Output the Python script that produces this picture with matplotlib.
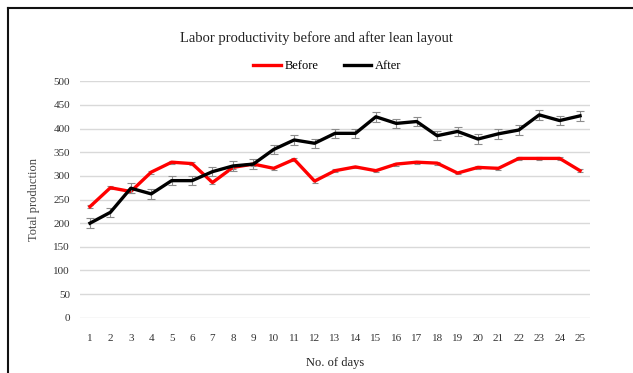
import matplotlib
matplotlib.use("Agg")
import matplotlib.pyplot as plt
from matplotlib.lines import Line2D

days = list(range(1, 26))
before = [235, 275, 267, 308, 329, 326, 286, 318, 325, 316, 335, 289, 311, 319, 311,
          325, 329, 327, 306, 318, 316, 337, 337, 337, 311]
after = [200, 223, 274, 262, 290, 290, 309, 321, 325, 356, 376, 369, 390, 390, 425,
         411, 415, 385, 394, 378, 389, 397, 429, 417, 427]
before_err = [3] * 25
after_err = [10] * 25
yticks = list(range(0, 501, 50))

plt.rcParams['font.family'] = ['Liberation Serif', 'DejaVu Serif']

fig = plt.figure(figsize=(6.33, 3.73), dpi=100)
ax = fig.add_axes([0.126, 0.148, 0.8065, 0.634])

for yv in yticks:
    ax.axhline(yv, color='#d9d9d9', lw=1.0, zorder=0)

ax.errorbar(days, before, yerr=before_err, color='#ff0000', lw=2.4,
            ecolor='#8c8c8c', elinewidth=0.8, capsize=2.5, capthick=0.8, zorder=3)
ax.errorbar(days, after, yerr=after_err, color='#000000', lw=2.4,
            ecolor='#8c8c8c', elinewidth=0.8, capsize=3, capthick=0.8, zorder=4)

ax.set_xlim(0.5, 25.5)
ax.set_ylim(0, 500)
ax.set_xticks(days)
ax.set_xticklabels([str(d) for d in days])
ax.set_yticks(yticks)
ax.tick_params(axis='both', length=0, labelsize=8, colors='#333333')
ax.tick_params(axis='x', pad=12)
ax.tick_params(axis='y', pad=7)
for s in ax.spines.values():
    s.set_visible(False)

ax.set_xlabel('No. of days', fontsize=9, color='#222222', labelpad=10)
ax.set_ylabel('Total production', fontsize=9, color='#444444', labelpad=10)

fig.text(0.5, 0.898, 'Labor productivity before and after lean layout',
         ha='center', va='center', fontsize=10.5, color='#222222')

handles = [Line2D([], [], color='#ff0000', lw=2.4),
           Line2D([], [], color='#000000', lw=2.4)]
fig.legend(handles, ['Before', 'After'], loc='center', bbox_to_anchor=(0.517, 0.823),
           ncol=2, frameon=False, fontsize=9, handlelength=2.2, handletextpad=0.3,
           columnspacing=2.0)

# outer frame: top and left edges
fig.add_artist(Line2D([8 / 633, 1.0], [1 - 7.5 / 373, 1 - 7.5 / 373],
                      transform=fig.transFigure, color='#111111', lw=1.5))
fig.add_artist(Line2D([8 / 633, 8 / 633], [0.0, 1 - 7.5 / 373],
                      transform=fig.transFigure, color='#111111', lw=1.5))

fig.savefig('out.png', dpi=100)
